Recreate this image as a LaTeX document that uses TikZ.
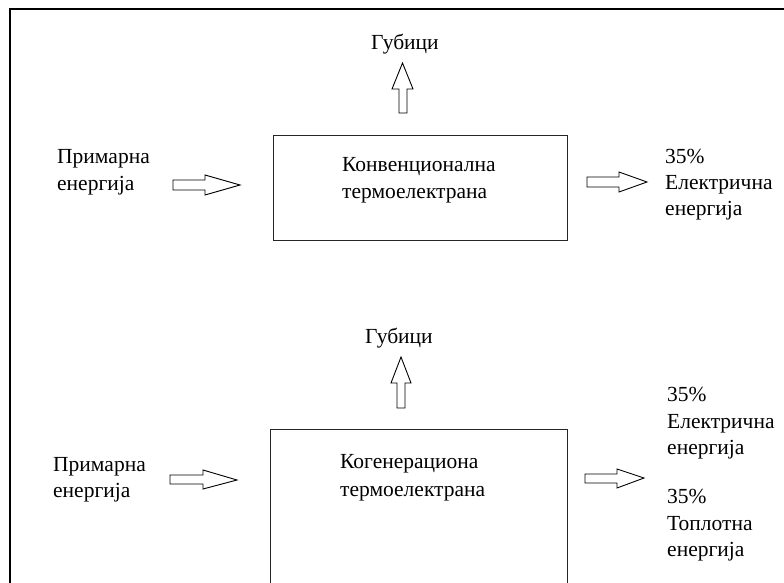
\documentclass[tikz,border=0pt]{standalone}
\usepackage{fontspec}
\setmainfont{Liberation Serif}
\begin{document}
\begin{tikzpicture}[x=1pt,y=-1pt,
  lbl/.style={anchor=base west,inner sep=0pt,font=\fontsize{21.5}{26}\selectfont},
  boxline/.style={draw=black!85,line width=1.1pt},
  blockarrow/.style={draw=black,line width=0.9pt,fill=white},
  frameline/.style={line width=2.4pt,black}]
\useasboundingbox (0,0) rectangle (784,583);
\clip (0,0) rectangle (784,583);
\fill[white] (0,0) rectangle (784,583);
% frame
\coordinate (fTL) at (10,9);
\coordinate (fTR) at (790,9);
\coordinate (fBL) at (10,590);
\draw[frameline] (fTR) -- (fTL) -- (fBL);

% ---------- top row ----------
\node[boxline,rectangle,minimum width=294pt,minimum height=105pt,anchor=north west] (box1) at (273,135) {};
\node[lbl] (k1) at (342,171) {Конвенционална};
\node[lbl] (k2) at (342,198) {термоелектрана};
\node[lbl] (g1) at (371,50) {Губици};
\node[lbl] (p1) at (57,164) {Примарна};
\node[lbl] (p2) at (57,190) {енергија};
\node[lbl] (r1) at (665,163) {35\%};
\node[lbl] (r2) at (665,189) {Електрична};
\node[lbl] (r3) at (665,215) {енергија};
\draw[blockarrow] (173,180)--(205,180)--(205,175)--(240,185)--(205,195)--(205,190)--(173,190)--cycle;
\draw[blockarrow] (587,177)--(619,177)--(619,172)--(647,182)--(619,192)--(619,187)--(587,187)--cycle;
\draw[blockarrow] (399,113)--(399,89)--(392,89)--(402.5,63)--(413,89)--(407,89)--(407,113)--cycle;

% ---------- bottom row ----------
\node[boxline,rectangle,minimum width=297pt,minimum height=200pt,anchor=north west] (box2) at (270,429) {};
\node[lbl] (c1) at (340,468) {Когенерациона};
\node[lbl] (c2) at (340,496) {термоелектрана};
\node[lbl] (g2) at (365,343) {Губици};
\node[lbl] (q1) at (53,471) {Примарна};
\node[lbl] (q2) at (53,497) {енергија};
\node[lbl] (s1) at (667,401) {35\%};
\node[lbl] (s2) at (667,428) {Електрична};
\node[lbl] (s3) at (667,454) {енергија};
\node[lbl] (s4) at (667,503) {35\%};
\node[lbl] (s5) at (667,530) {Топлотна};
\node[lbl] (s6) at (667,556) {енергија};
\draw[blockarrow] (170,475)--(203,475)--(203,470)--(237,480)--(203,489)--(203,484)--(170,484)--cycle;
\draw[blockarrow] (585,474)--(617,474)--(617,469)--(644,478)--(617,488)--(617,483)--(585,483)--cycle;
\draw[blockarrow] (397,408)--(397,383)--(391,383)--(401,357)--(411,383)--(405,383)--(405,408)--cycle;
\end{tikzpicture}
\end{document}
